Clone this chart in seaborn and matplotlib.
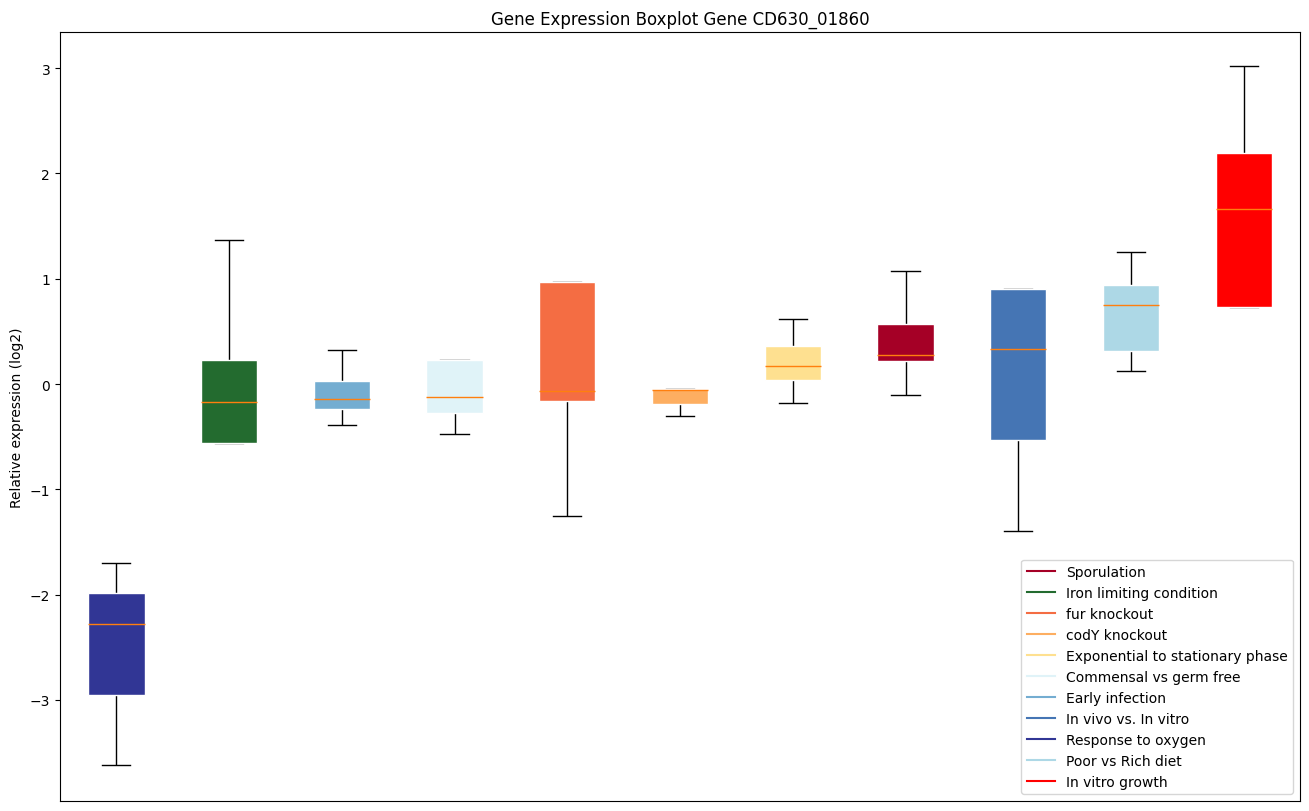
import matplotlib
matplotlib.use("Agg")
import matplotlib.pyplot as plt
from matplotlib.lines import Line2D
import seaborn as sns
import pandas as pd

# Box order (left to right)
categories = ["Response to oxygen", "Iron limiting condition", "Early infection",
              "Commensal vs germ free", "fur knockout", "codY knockout",
              "Exponential to stationary phase", "Sporulation", "In vivo vs. In vitro",
              "Poor vs Rich diet", "In vitro growth"]

# Five summary points per category: min, Q1, median, Q3, max
response_to_oxygen = [-3.62, -2.95, -2.28, -1.98, -1.70]
iron_limiting = [-0.56, -0.56, -0.17, 0.23, 1.37]
early_infection = [-0.39, -0.24, -0.14, 0.03, 0.32]
commensal = [-0.47, -0.28, -0.12, 0.23, 0.23]
fur_knockout = [-1.25, -0.16, -0.07, 0.97, 0.97]
cody_knockout = [-0.30, -0.19, -0.06, -0.05, -0.045]
exponential = [-0.18, 0.04, 0.17, 0.36, 0.62]
sporulation = [-0.10, 0.22, 0.28, 0.57, 1.07]
in_vivo = [-1.40, -0.53, 0.33, 0.90, 0.90]
poor_rich = [0.12, 0.31, 0.75, 0.94, 1.25]
in_vitro_growth = [0.73, 0.73, 1.66, 2.19, 3.02]

series = [response_to_oxygen, iron_limiting, early_infection, commensal, fur_knockout,
          cody_knockout, exponential, sporulation, in_vivo, poor_rich, in_vitro_growth]

colors = {
    "Sporulation": "#a50026",
    "Iron limiting condition": "#236b2f",
    "fur knockout": "#f46d43",
    "codY knockout": "#fdae61",
    "Exponential to stationary phase": "#fee090",
    "Commensal vs germ free": "#e0f3f8",
    "Early infection": "#74add1",
    "In vivo vs. In vitro": "#4575b4",
    "Response to oxygen": "#313695",
    "Poor vs Rich diet": "#add8e6",
    "In vitro growth": "#ff0000",
}
legend_order = ["Sporulation", "Iron limiting condition", "fur knockout", "codY knockout",
                "Exponential to stationary phase", "Commensal vs germ free", "Early infection",
                "In vivo vs. In vitro", "Response to oxygen", "Poor vs Rich diet", "In vitro growth"]

rows = []
for cat, vals in zip(categories, series):
    for v in vals:
        rows.append({"condition": cat, "value": v})
df = pd.DataFrame(rows)

plt.rcParams["font.family"] = ["DejaVu Sans"]

fig = plt.figure(figsize=(13.09, 8.12), dpi=100)
ax = fig.add_axes([0.0458, 0.0123, 0.9474, 0.9467])

sns.boxplot(data=df, x="condition", y="value", hue="condition", order=categories,
            hue_order=categories, palette=colors, dodge=False, legend=False,
            saturation=1, width=0.5, whis=(0, 100), showfliers=False, linewidth=1.0, ax=ax,
            boxprops=dict(edgecolor="white", linewidth=1.0, zorder=2),
            whiskerprops=dict(color="black", linewidth=1.0, zorder=1),
            capprops=dict(color="black", linewidth=1.0, zorder=1),
            medianprops=dict(color="#ff7f0e", linewidth=1.0, zorder=3))

ax.set_xlim(-0.5, len(categories) - 0.5)
ax.set_ylim(-3.96, 3.34)
ax.set_xticks([])
ax.set_xlabel("")
ax.set_ylabel("Relative expression (log2)", fontsize=10)
ax.set_title("Gene Expression Boxplot Gene CD630_01860", fontsize=12)
ax.tick_params(axis="y", labelsize=10)

handles = [Line2D([0], [0], color=colors[c], lw=1.5) for c in legend_order]
ax.legend(handles, legend_order, loc="lower right", fontsize=10, frameon=True)

fig.savefig("out.png", dpi=100)
